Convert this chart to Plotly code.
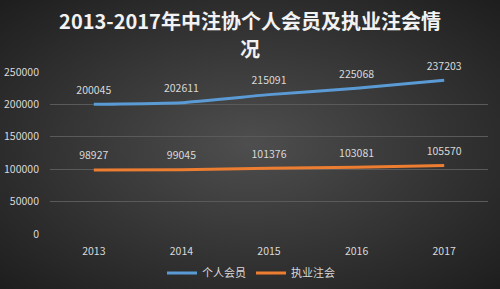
import plotly.graph_objects as go

years = ["2013", "2014", "2015", "2016", "2017"]
members = [200045, 202611, 215091, 225068, 237203]
cpas = [98927, 99045, 101376, 103081, 105570]
series_names = ["个人会员", "执业注会"]
y_ticks = [0, 50000, 100000, 150000, 200000, 250000]
title_lines = ["2013-2017年中注协个人会员及执业注会情", "况"]

W, H = 500, 289
ML, MR, MT, MB = 50, 12, 72, 55
pw, ph = W - ML - MR, H - MT - MB

svg = ("data:image/svg+xml;utf8,<svg xmlns='http://www.w3.org/2000/svg' width='500' height='289' "
       "viewBox='0 0 500 289' preserveAspectRatio='none'>"
       "<defs><radialGradient id='g' cx='50%' cy='50%' r='70%'>"
       "<stop offset='0%' stop-color='%234e4e4e'/><stop offset='100%' stop-color='%231e1e1e'/>"
       "</radialGradient></defs><rect width='500' height='289' fill='url(%23g)'/></svg>")

font = "Noto Sans CJK SC, Microsoft YaHei, sans-serif"
fig = go.Figure()
colors = ["#5B9BD5", "#ED7D31"]
for name, vals, c in zip(series_names, [members, cpas], colors):
    fig.add_trace(go.Scatter(
        x=years, y=vals, name=name, mode="lines",
        line=dict(color=c, width=3, shape="spline", smoothing=0.3),
    ))
for name, vals, c in zip(series_names, [members, cpas], colors):
    fig.add_trace(go.Scatter(
        x=years, y=vals, name=name, mode="markers+text", showlegend=False,
        marker=dict(size=11, opacity=0, color=c),
        text=[str(v) for v in vals], textposition="top center",
        textfont=dict(color="#d9d9d9", size=10.5, family=font),
        cliponaxis=False, hoverinfo="skip",
    ))

fig.update_layout(
    width=W, height=H,
    margin=dict(l=ML, r=MR, t=MT, b=MB, autoexpand=False),
    paper_bgcolor="#333333", plot_bgcolor="rgba(0,0,0,0)",
    title=dict(text="<b>" + title_lines[0] + "</b>",
               x=0.5, xanchor="center", y=1 - 22 / H, yanchor="middle",
               font=dict(size=20, color="#f2f2f2", family=font)),
    annotations=[dict(text="<b>" + title_lines[1] + "</b>", xref="paper", yref="paper",
                      x=0.5 + (250 - ML - pw / 2) / pw, y=1 + (MT - 48) / ph,
                      xanchor="center", yanchor="middle", showarrow=False,
                      font=dict(size=20, color="#f2f2f2", family=font))],
    font=dict(family=font, color="#d9d9d9", size=10.5),
    xaxis=dict(type="category", range=[-0.5, 4.5], showgrid=False, zeroline=False,
               showline=False, ticks="", ticklabelstandoff=9,
               tickfont=dict(size=10.5, color="#d9d9d9")),
    yaxis=dict(range=[0, 250000], tickvals=y_ticks, ticktext=[str(t) for t in y_ticks],
               showgrid=True, gridcolor="#5a5a5a", gridwidth=1, zeroline=False,
               showline=False, ticks="", ticklabelstandoff=10,
               tickfont=dict(size=10.5, color="#d9d9d9")),
    legend=dict(orientation="h", x=(251 - ML) / pw, xanchor="center", y=-39 / ph,
                yanchor="middle", font=dict(size=11, color="#d9d9d9"),
                bgcolor="rgba(0,0,0,0)"),
    showlegend=True,
    images=[dict(source=svg, xref="paper", yref="paper",
                 x=-ML / pw, y=1 + MT / ph, sizex=W / pw, sizey=H / ph,
                 xanchor="left", yanchor="top", sizing="stretch", layer="below")],
)

fig.write_html("out.html")
